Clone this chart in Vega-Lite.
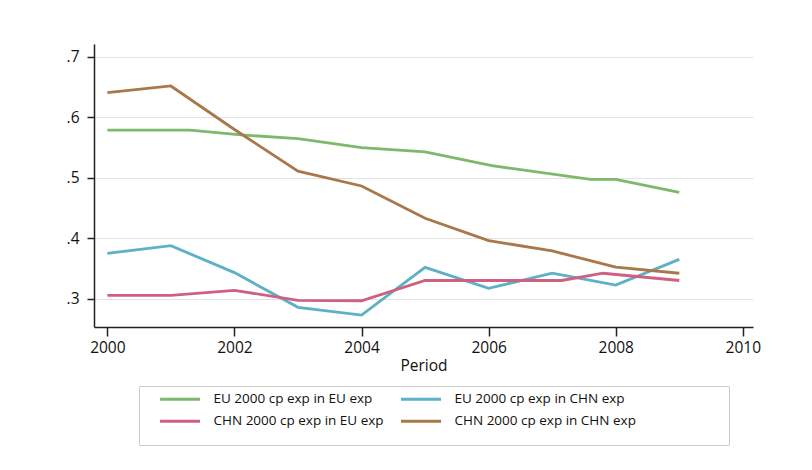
{
  "$schema": "https://vega.github.io/schema/vega-lite/v6.json",
  "width": 659,
  "height": 283,
  "autosize": {"type": "none"},
  "padding": {"left": 94, "top": 44, "right": 59, "bottom": 143},
  "background": "white",
  "config": {
    "font": "Open Sans",
    "view": {"stroke": null},
    "axis": {"labelFont": "Open Sans", "titleFont": "Open Sans"}
  },
  "data": {
    "values": [
      {"period": 2000, "value": 0.579, "series": "EU 2000 cp exp in EU exp"},
      {"period": 2001.3, "value": 0.579, "series": "EU 2000 cp exp in EU exp"},
      {"period": 2002.1, "value": 0.571, "series": "EU 2000 cp exp in EU exp"},
      {"period": 2003, "value": 0.565, "series": "EU 2000 cp exp in EU exp"},
      {"period": 2004, "value": 0.550, "series": "EU 2000 cp exp in EU exp"},
      {"period": 2005, "value": 0.543, "series": "EU 2000 cp exp in EU exp"},
      {"period": 2006.05, "value": 0.520, "series": "EU 2000 cp exp in EU exp"},
      {"period": 2007.6, "value": 0.4975, "series": "EU 2000 cp exp in EU exp"},
      {"period": 2008, "value": 0.4975, "series": "EU 2000 cp exp in EU exp"},
      {"period": 2009, "value": 0.476, "series": "EU 2000 cp exp in EU exp"},

      {"period": 2000, "value": 0.375, "series": "EU 2000 cp exp in CHN exp"},
      {"period": 2001, "value": 0.3876, "series": "EU 2000 cp exp in CHN exp"},
      {"period": 2002, "value": 0.343, "series": "EU 2000 cp exp in CHN exp"},
      {"period": 2003, "value": 0.2856, "series": "EU 2000 cp exp in CHN exp"},
      {"period": 2004, "value": 0.2728, "series": "EU 2000 cp exp in CHN exp"},
      {"period": 2005, "value": 0.3518, "series": "EU 2000 cp exp in CHN exp"},
      {"period": 2006, "value": 0.317, "series": "EU 2000 cp exp in CHN exp"},
      {"period": 2007, "value": 0.342, "series": "EU 2000 cp exp in CHN exp"},
      {"period": 2008, "value": 0.3225, "series": "EU 2000 cp exp in CHN exp"},
      {"period": 2009, "value": 0.365, "series": "EU 2000 cp exp in CHN exp"},

      {"period": 2000, "value": 0.3055, "series": "CHN 2000 cp exp in EU exp"},
      {"period": 2001, "value": 0.3055, "series": "CHN 2000 cp exp in EU exp"},
      {"period": 2002, "value": 0.3137, "series": "CHN 2000 cp exp in EU exp"},
      {"period": 2003, "value": 0.297, "series": "CHN 2000 cp exp in EU exp"},
      {"period": 2004, "value": 0.2965, "series": "CHN 2000 cp exp in EU exp"},
      {"period": 2005, "value": 0.330, "series": "CHN 2000 cp exp in EU exp"},
      {"period": 2006, "value": 0.330, "series": "CHN 2000 cp exp in EU exp"},
      {"period": 2007.15, "value": 0.330, "series": "CHN 2000 cp exp in EU exp"},
      {"period": 2007.8, "value": 0.342, "series": "CHN 2000 cp exp in EU exp"},
      {"period": 2009, "value": 0.330, "series": "CHN 2000 cp exp in EU exp"},

      {"period": 2000, "value": 0.641, "series": "CHN 2000 cp exp in CHN exp"},
      {"period": 2001, "value": 0.652, "series": "CHN 2000 cp exp in CHN exp"},
      {"period": 2002, "value": 0.580, "series": "CHN 2000 cp exp in CHN exp"},
      {"period": 2003, "value": 0.511, "series": "CHN 2000 cp exp in CHN exp"},
      {"period": 2004, "value": 0.4865, "series": "CHN 2000 cp exp in CHN exp"},
      {"period": 2005, "value": 0.433, "series": "CHN 2000 cp exp in CHN exp"},
      {"period": 2006, "value": 0.396, "series": "CHN 2000 cp exp in CHN exp"},
      {"period": 2007, "value": 0.379, "series": "CHN 2000 cp exp in CHN exp"},
      {"period": 2008, "value": 0.352, "series": "CHN 2000 cp exp in CHN exp"},
      {"period": 2009, "value": 0.342, "series": "CHN 2000 cp exp in CHN exp"}
    ]
  },
  "mark": {"type": "line", "strokeWidth": 2.8},
  "encoding": {
    "x": {
      "field": "period",
      "type": "quantitative",
      "title": "Period",
      "scale": {"domain": [1999.79, 2010.16], "nice": false, "zero": false},
      "axis": {
        "values": [2000, 2002, 2004, 2006, 2008, 2010],
        "format": "d",
        "grid": false,
        "domainColor": "#222",
        "domainWidth": 1.5,
        "tickColor": "#222",
        "tickWidth": 1.5,
        "tickSize": 9,
        "labelPadding": 4,
        "labelFontSize": 15.5,
        "labelColor": "#111",
        "titleFontSize": 15.5,
        "titleFontWeight": "normal",
        "titleColor": "#111",
        "titlePadding": 3
      }
    },
    "y": {
      "field": "value",
      "type": "quantitative",
      "title": null,
      "scale": {"domain": [0.253, 0.7215], "nice": false, "zero": false},
      "axis": {
        "values": [0.3, 0.4, 0.5, 0.6, 0.7],
        "labelExpr": "replace(format(datum.value, '.1f'), '0.', '.')",
        "grid": true,
        "gridColor": "#e2e2e2",
        "gridWidth": 1.2,
        "domainColor": "#222",
        "domainWidth": 1.5,
        "tickColor": "#222",
        "tickWidth": 1.5,
        "tickSize": 7,
        "labelPadding": 8,
        "labelFontSize": 15.5,
        "labelColor": "#111"
      }
    },
    "color": {
      "field": "series",
      "type": "nominal",
      "sort": null,
      "scale": {
        "domain": ["EU 2000 cp exp in EU exp", "EU 2000 cp exp in CHN exp", "CHN 2000 cp exp in EU exp", "CHN 2000 cp exp in CHN exp"],
        "range": ["#7db86b", "#5cb0c7", "#d0607f", "#a9774a"]
      },
      "legend": {
        "title": [".", ".", "."],
        "titleOrient": "right",
        "titleColor": "white",
        "titleFontSize": 10,
        "titleLineHeight": 18.8,
        "titleBaseline": "top",
        "titlePadding": 84,
        "orient": "none",
        "legendX": 45,
        "legendY": 342,
        "columns": 2,
        "direction": "horizontal",
        "symbolType": "M2.37,0H13.8",
        "symbolSize": 49,
        "symbolStrokeWidth": 3,
        "labelFontSize": 13.5,
        "labelColor": "#111",
        "labelOffset": 55,
        "labelLimit": 400,
        "columnPadding": 2,
        "rowPadding": 7.5,
        "padding": 6,
        "strokeColor": "#cccccc",
        "fillColor": "white"
      }
    }
  }
}
